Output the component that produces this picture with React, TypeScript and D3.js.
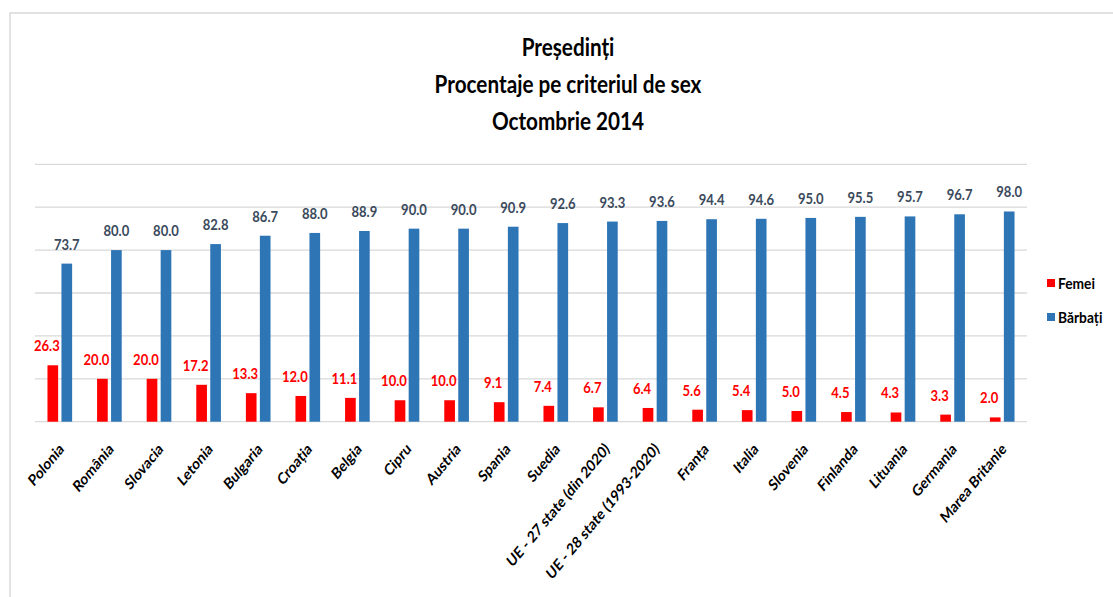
import React from "react";
import * as d3 from "d3";

const categories = [
  "Polonia", "România", "Slovacia", "Letonia", "Bulgaria", "Croația", "Belgia", "Cipru",
  "Austria", "Spania", "Suedia", "UE - 27 state (din 2020)", "UE - 28 state (1993-2020)",
  "Franța", "Italia", "Slovenia", "Finlanda", "Lituania", "Germania", "Marea Britanie",
];
const femei = [26.3, 20.0, 20.0, 17.2, 13.3, 12.0, 11.1, 10.0, 10.0, 9.1, 7.4, 6.7, 6.4, 5.6, 5.4, 5.0, 4.5, 4.3, 3.3, 2.0];
const barbati = [73.7, 80.0, 80.0, 82.8, 86.7, 88.0, 88.9, 90.0, 90.0, 90.9, 92.6, 93.3, 93.6, 94.4, 94.6, 95.0, 95.5, 95.7, 96.7, 98.0];
const yTicks = [0, 20, 40, 60, 80, 100, 120];
const titleLines = ["Președinți", "Procentaje pe criteriul de sex", "Octombrie 2014"];
const seriesNames = ["Femei", "Bărbați"];

const W = 1113;
const H = 597;
const RED = "#FF0000";
const BLUE = "#2E75B6";
const FONT = "Lato, 'Open Sans', sans-serif";

export default function App() {
  const x = d3.scaleBand<string>().domain(categories).range([35, 1027]).padding(0);
  const y = d3.scaleLinear().domain([0, 120]).range([421.7, 164.3]);
  const bw = x.bandwidth() * 0.215;
  const gap = x.bandwidth() * 0.067;

  return (
    <svg width={W} height={H} style={{ position: "absolute", left: 0, top: 0, background: "#fff" }}>
      <rect x={10} y={13} width={W + 10} height={H + 10} fill="#fff" stroke="#D9D9D9" strokeWidth={1.5} />
      {titleLines.map((t, i) => (
        <text key={i} transform={`translate(568,${56 + i * 37}) scale(0.9,1.1)`} textAnchor="middle" fontFamily={FONT} fontWeight={700} fontSize={23} fill="#000">
          {t}
        </text>
      ))}
      {yTicks.map((t) => (
        <line key={t} x1={35} x2={1027} y1={y(t)} y2={y(t)} stroke="#D9D9D9" strokeWidth={1.3} />
      ))}
      {categories.map((c, i) => {
        const cx = (x(c) as number) + x.bandwidth() / 2;
        const rx = cx - gap / 2 - bw;
        const bx = cx + gap / 2;
        return (
          <g key={c}>
            <rect x={rx} y={y(femei[i])} width={bw} height={y(0) - y(femei[i])} fill={RED} />
            <rect x={bx} y={y(barbati[i])} width={bw} height={y(0) - y(barbati[i])} fill={BLUE} />
            <text transform={`translate(${rx + bw / 2 - 6},${y(femei[i]) - 14}) scale(0.87,1.04)`} textAnchor="middle" fontFamily={FONT} fontWeight={700} fontSize={15} fill={RED}>
              {femei[i].toFixed(1)}
            </text>
            <text transform={`translate(${bx + bw / 2},${y(barbati[i]) - 14}) scale(0.87,1.04)`} textAnchor="middle" fontFamily={FONT} fontWeight={700} fontSize={15} fill="#3B4A5C">
              {barbati[i].toFixed(1)}
            </text>
            <text transform={`translate(${cx + 5},${450}) scale(0.88,1.06) rotate(-45)`} textAnchor="end" fontFamily={FONT} fontWeight={700} fontSize={15} fill="#000">
              {c}
            </text>
          </g>
        );
      })}
      {seriesNames.map((s, i) => (
        <g key={s} transform={`translate(1047,${279 + i * 34})`}>
          <rect x={0} y={0} width={8} height={8} fill={i === 0 ? RED : BLUE} />
          <text transform="translate(11,9.5) scale(0.92,1.06)" fontFamily={FONT} fontWeight={700} fontSize={15} fill="#000">
            {s}
          </text>
        </g>
      ))}
    </svg>
  );
}
